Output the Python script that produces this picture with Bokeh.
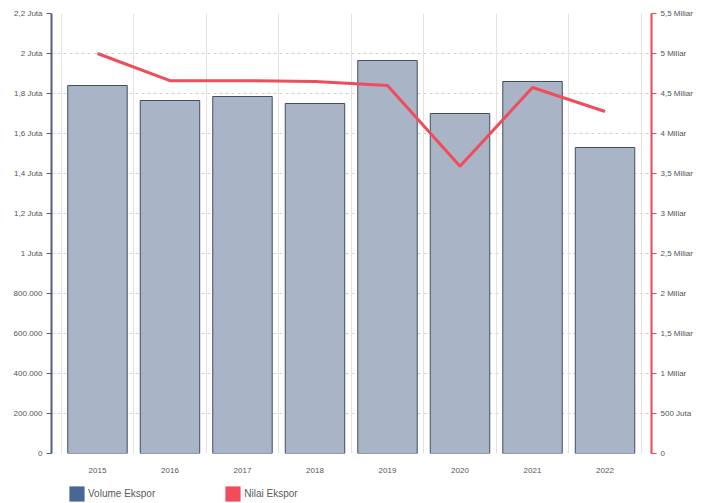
from bokeh.plotting import figure
from bokeh.layouts import column
from bokeh.models import Range1d, LinearAxis, FixedTicker, Legend, LegendItem, Grid, ColumnDataSource
from bokeh.embed import file_html
from bokeh.resources import INLINE

years = ["2015", "2016", "2017", "2018", "2019", "2020", "2021", "2022"]
volume = [1840000, 1765000, 1785000, 1750000, 1965000, 1700000, 1860000, 1530000]
nilai = [5.0e9, 4.66e9, 4.66e9, 4.65e9, 4.6e9, 3.59e9, 4.575e9, 4.275e9]

left_ticks = [0, 200000, 400000, 600000, 800000, 1000000, 1200000, 1400000, 1600000, 1800000, 2000000, 2200000]
left_labels = ["0", "200.000", "400.000", "600.000", "800.000", "1 Juta", "1,2 Juta", "1,4 Juta",
               "1,6 Juta", "1,8 Juta", "2 Juta", "2,2 Juta"]
right_ticks = [0, 0.5e9, 1e9, 1.5e9, 2e9, 2.5e9, 3e9, 3.5e9, 4e9, 4.5e9, 5e9, 5.5e9]
right_labels = ["0", "500 Juta", "1 Miliar", "1,5 Miliar", "2 Miliar", "2,5 Miliar", "3 Miliar",
                "3,5 Miliar", "4 Miliar", "4,5 Miliar", "5 Miliar", "5,5 Miliar"]
series_names = ["Volume Ekspor", "Nilai Ekspor"]
series_colors = ["#4a6694", "#f04c5c"]

FONT = "Liberation Sans"
idx = list(range(len(years)))

p = figure(width=702, height=480, output_backend="svg", toolbar_location=None,
           x_range=Range1d(-0.634, 7.641), y_range=Range1d(0, 2200000),
           min_border_left=51, min_border_right=51, min_border_top=13, min_border_bottom=27)
p.outline_line_color = None
p.extra_y_ranges = {"nilai": Range1d(0, 5.5e9)}

# grids
p.xgrid.visible = False
p.ygrid.ticker = FixedTicker(ticks=left_ticks)
p.ygrid.grid_line_color = "#d0d0d0"
p.ygrid.grid_line_dash = "3 3"
vgrid = Grid(dimension=0, ticker=FixedTicker(ticks=[i - 0.5 for i in range(len(years) + 1)]),
             grid_line_color="#e2e2e2", grid_line_width=1)
p.add_layout(vgrid)

src = ColumnDataSource(dict(x=idx, year=years, volume=volume, nilai=nilai))
p.vbar(x="x", top="volume", width=0.82, source=src, fill_color="#a9b4c6",
       line_color="#3e4e64", line_width=1)
p.line(x="x", y="nilai", source=src, y_range_name="nilai", line_color=series_colors[1], line_width=3)

# x axis
xa = p.xaxis[0]
xa.ticker = FixedTicker(ticks=idx)
xa.major_label_overrides = {i: y for i, y in zip(idx, years)}
xa.axis_line_color = None
xa.major_tick_line_color = None
xa.minor_tick_line_color = None
xa.major_label_text_font = FONT
xa.major_label_text_font_size = "8px"
xa.major_label_text_color = "#555555"
xa.major_label_standoff = 8

# left axis
ya = p.yaxis[0]
ya.ticker = FixedTicker(ticks=left_ticks)
ya.major_label_overrides = {t: l for t, l in zip(left_ticks, left_labels)}
ya.axis_line_color = "#4d5f86"
ya.axis_line_width = 2
ya.major_tick_line_color = "#4d5f86"
ya.major_tick_in = 0
ya.major_tick_out = 5
ya.minor_tick_line_color = None
ya.major_label_text_font = FONT
ya.major_label_text_font_size = "8px"
ya.major_label_text_color = "#555555"
ya.major_label_standoff = 4

# right axis
ra = LinearAxis(y_range_name="nilai", ticker=FixedTicker(ticks=right_ticks))
ra.major_label_overrides = {t: l for t, l in zip(right_ticks, right_labels)}
ra.axis_line_color = "#ec4455"
ra.axis_line_width = 2
ra.major_tick_line_color = "#ec4455"
ra.major_tick_in = 0
ra.major_tick_out = 5
ra.minor_tick_line_color = None
ra.major_label_text_font = FONT
ra.major_label_text_font_size = "8px"
ra.major_label_text_color = "#555555"
ra.major_label_standoff = 4
p.add_layout(ra, "right")

# legend in a separate strip (proxy swatches lie outside the strip's visible range)
lg = figure(width=702, height=23, output_backend="svg", toolbar_location=None,
            x_range=Range1d(0, 1), y_range=Range1d(0, 1),
            min_border=0, x_axis_location=None, y_axis_location=None)
lg.outline_line_color = None
lg.grid.visible = False
rs = [lg.rect(x=[5], y=[5], width=1, height=1, fill_color=c, line_color=None) for c in series_colors]
legend = Legend(items=[LegendItem(label=n, renderers=[r]) for n, r in zip(series_names, rs)],
                orientation="horizontal", location=(16, 0),
                glyph_width=19, glyph_height=19, label_standoff=2, spacing=68,
                padding=0, margin=0, border_line_color=None, background_fill_alpha=0,
                label_text_font=FONT, label_text_font_size="10px", label_text_color="#5a5a5a")
lg.add_layout(legend, "center")

layout = column(p, lg, spacing=0)
open("out.html", "w").write(file_html(layout, INLINE))
